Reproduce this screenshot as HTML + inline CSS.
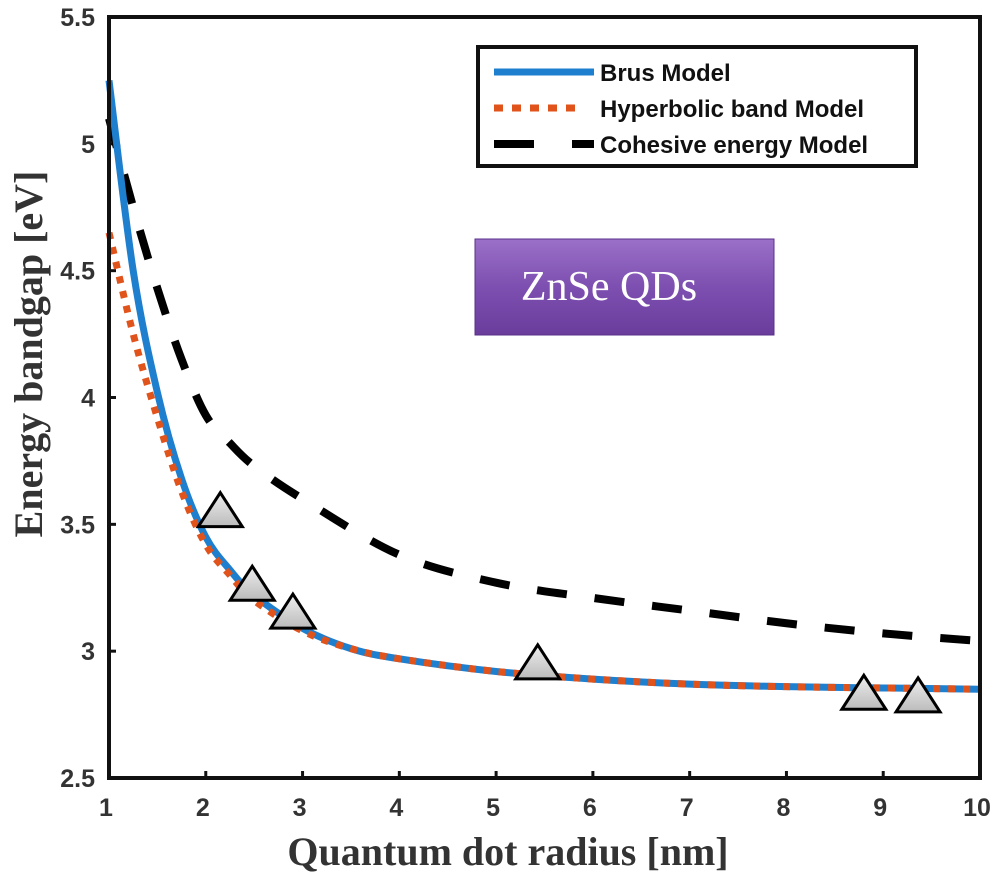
<!DOCTYPE html>
<html><head><meta charset="utf-8"><style>
body{margin:0;background:#fff;width:1008px;height:880px;overflow:hidden}
svg{display:block}
.tick{font-family:"Liberation Sans",sans-serif;font-weight:bold;font-size:25px;fill:#333}
.title{font-family:"Liberation Serif",serif;font-weight:bold;font-size:40px;fill:#333}
.leg{font-family:"Liberation Sans",sans-serif;font-weight:bold;font-size:24px;fill:#111}
</style></head><body>
<svg id="chart" width="1008" height="880">
<defs>
<linearGradient id="pg" x1="0" y1="0" x2="0" y2="1"><stop offset="0" stop-color="#9a70c8"/><stop offset="0.5" stop-color="#7d4fb0"/><stop offset="1" stop-color="#6a3c9c"/></linearGradient>
<linearGradient id="tg" x1="0" y1="0" x2="0" y2="1"><stop offset="0" stop-color="#eee"/><stop offset="1" stop-color="#bbb"/></linearGradient>
</defs>
<g id="plot"></g>
</svg>
<script>
const brusX=[1,1.25,1.5,1.75,2,2.25,2.5,3,3.5,4,5,6,7,8,9,10];
const brusY=[5.25,4.5,4.02,3.68,3.45,3.32,3.22,3.09,3.01,2.97,2.92,2.89,2.87,2.86,2.855,2.85];
const hypX=[1,1.25,1.5,1.75,2,2.25,2.5,3,3.5,4,5,6,7,8,9,10];
const hypY=[4.65,4.25,3.92,3.63,3.42,3.3,3.2,3.08,3.01,2.97,2.92,2.89,2.87,2.86,2.855,2.85];
const cohX=[1,1.25,1.5,1.75,2,2.25,2.5,3,4,5,6,7,8,9,10];
const cohY=[5.1,4.75,4.43,4.15,3.93,3.82,3.73,3.6,3.38,3.27,3.21,3.16,3.11,3.07,3.04];
const expX=[2.15,2.48,2.9,5.43,8.8,9.36];
const expY=[3.55,3.26,3.15,2.95,2.83,2.82];
const xTicks=[1,2,3,4,5,6,7,8,9,10];
const yTicks=[2.5,3,3.5,4,4.5,5,5.5];
const X0=109,X1=980,Y0=778,Y1=17;
const sx=v=>X0+(v-1)/9*(X1-X0);
const sy=v=>Y0-(v-2.5)/3*(Y0-Y1);
const NS="http://www.w3.org/2000/svg";
const g=document.getElementById('plot');
function mk(t,a,p){const e=document.createElementNS(NS,t);for(const k in a)e.setAttribute(k,a[k]);(p||g).appendChild(e);return e;}
function smooth(xs,ys){const P=xs.map((x,i)=>[sx(x),sy(ys[i])]);let d=`M${P[0][0]},${P[0][1]}`;
for(let i=0;i<P.length-1;i++){const p0=P[Math.max(i-1,0)],p1=P[i],p2=P[i+1],p3=P[Math.min(i+2,P.length-1)];
const c1=[p1[0]+(p2[0]-p0[0])/6,p1[1]+(p2[1]-p0[1])/6],c2=[p2[0]-(p3[0]-p1[0])/6,p2[1]-(p3[1]-p1[1])/6];
d+=`C${c1[0]},${c1[1]} ${c2[0]},${c2[1]} ${p2[0]},${p2[1]}`;}return d;}
xTicks.forEach(v=>{
 let l=mk('line',{x1:sx(v),x2:sx(v),y1:Y0,y2:Y0-7,stroke:'#111','stroke-width':3});
 
 let t=mk('text',{x:sx(v)-3,y:Y0+38,'text-anchor':'middle',class:'tick'});t.textContent=v;
 
});
yTicks.forEach(v=>{
 let l=mk('line',{x1:X0,x2:X0+7,y1:sy(v),y2:sy(v),stroke:'#111','stroke-width':3});
 
 let t=mk('text',{x:X0-14,y:sy(v)+9,'text-anchor':'end',class:'tick'});t.textContent=v;
 
});
let c=mk('path',{d:smooth(cohX,cohY),fill:'none',stroke:'#000','stroke-width':8,'stroke-dasharray':'30 28'});

let b=mk('path',{d:smooth(brusX,brusY),fill:'none',stroke:'#1f7fcf','stroke-width':7});

let h=mk('path',{d:smooth(hypX,hypY),fill:'none',stroke:'#e0531b','stroke-width':7,'stroke-dasharray':'7 8'});

expX.forEach((v,i)=>{const cx=sx(v),cy=sy(expY[i]);
 let t=mk('polygon',{points:`${cx},${cy-19} ${cx+22},${cy+15} ${cx-22},${cy+15}`,fill:'url(#tg)',stroke:'#000','stroke-width':3});
 
});
let f=mk('rect',{x:X0,y:Y1,width:X1-X0,height:Y0-Y1,fill:'none',stroke:'#111','stroke-width':4});

let lg=mk('g',{});
mk('rect',{x:478,y:47,width:438,height:119,fill:'#fff',stroke:'#111','stroke-width':4},lg);
mk('line',{x1:494,x2:594,y1:72,y2:72,stroke:'#1f7fcf','stroke-width':7},lg);
mk('line',{x1:494,x2:584,y1:108,y2:108,stroke:'#e0531b','stroke-width':7,'stroke-dasharray':'9 9'},lg);
mk('line',{x1:494,x2:534,y1:144,y2:144,stroke:'#000','stroke-width':8},lg);
mk('line',{x1:572,x2:594,y1:144,y2:144,stroke:'#000','stroke-width':8},lg);
[['Brus Model',81],['Hyperbolic band Model',117],['Cohesive energy Model',153]].forEach(([s,y])=>{
 let t=mk('text',{x:600,y:y,class:'leg'},lg);t.textContent=s;
 });
let an=mk('g',{});
mk('rect',{x:475,y:239,width:299,height:96,fill:'url(#pg)',stroke:'#5a3088','stroke-width':1},an);
let at=mk('text',{x:609,y:300,'text-anchor':'middle','font-family':'"Liberation Serif",serif','font-size':42,fill:'#fff'},an);at.textContent='ZnSe QDs';
let xt=mk('text',{x:508,y:865,'text-anchor':'middle',class:'title'});xt.textContent='Quantum dot radius [nm]';

let yt=mk('text',{x:0,y:0,'text-anchor':'middle',class:'title',transform:'translate(42,354) rotate(-90)'});yt.textContent='Energy bandgap [eV]';

</script>
</body></html>
